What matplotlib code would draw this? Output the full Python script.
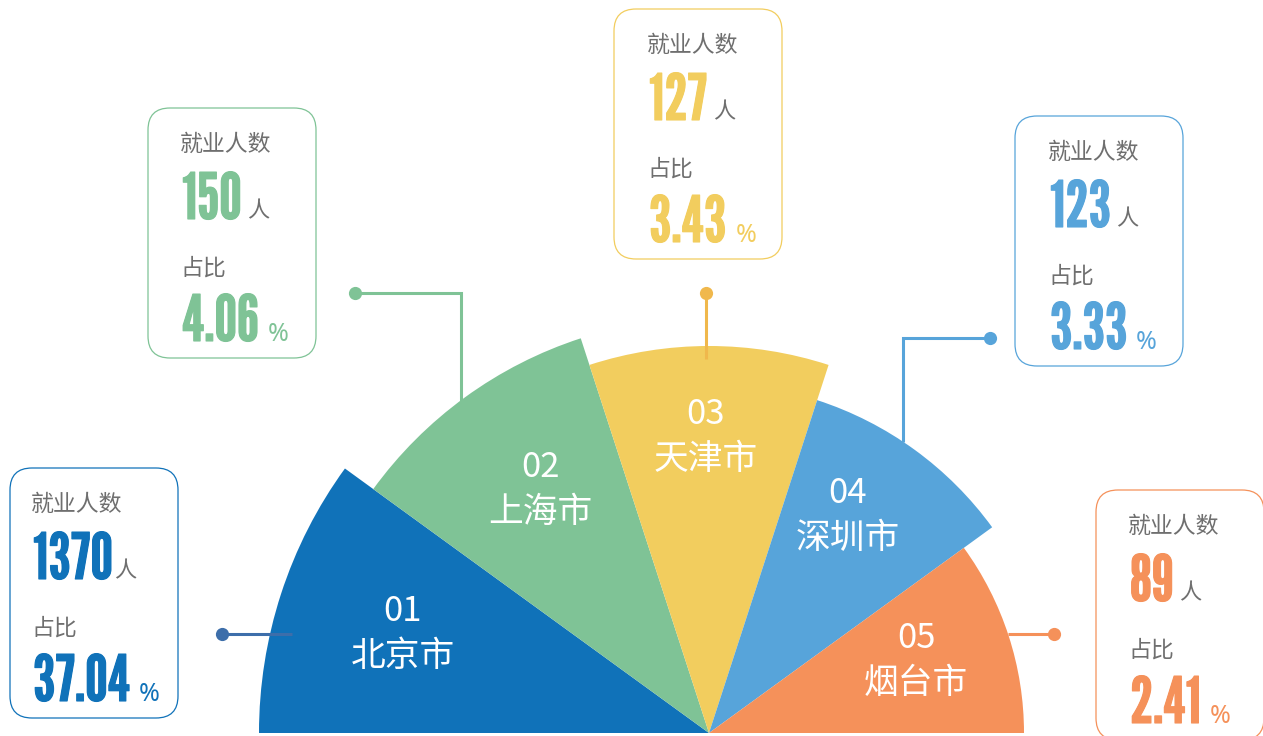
import math
import matplotlib
matplotlib.use("Agg")
import matplotlib.pyplot as plt
from matplotlib.patches import Wedge, FancyBboxPatch
import matplotlib.patheffects as pe
from matplotlib import font_manager as fm

# ---------------- data ----------------
ids = ["01", "02", "03", "04", "05"]
cities = ["北京市", "上海市", "天津市", "深圳市", "烟台市"]
employed = [1370, 150, 127, 123, 89]
share_pct = ["37.04", "4.06", "3.43", "3.33", "2.41"]
# display radius (rose-type) of each sector, in pixels
rose_radius = [450, 415, 387, 350, 315]

# ---------------- style / layout ----------------
colors = ["#1072b9", "#7fc396", "#f2cd5e", "#57a4da", "#f5915a"]
line_colors = ["#3d6eaa", "#7fc396", "#f0b84c", "#57a4da", "#f5915a"]
label_frac = [0.716, 0.715, 0.765, 0.736, 0.697]
label_dang = [0.0, -1.3, 0.6, 3.4, 1.4]
box_xy = [(10, 468), (148, 108), (614, 9), (1015, 116), (1096, 490)]
box_w, box_h = 168, 250
text_dx = [21, 32, 33, 33, 32]
unit_gap = [0.8, 4.0, 4.0, 4.0, 4.0]
leaders = [
    [(222, 634), (292, 634)],
    [(355, 293), (461, 293), (461, 402)],
    [(706, 293), (706, 359)],
    [(990, 338), (903, 338), (903, 442)],
    [(1054, 634), (1008, 634)],
]
W, H = 1263, 736
CX, CY = 709, 733  # image pixel coordinates of the rose centre

avail = set(f.name for f in fm.fontManager.ttflist)
num_font = [f for f in ["League Gothic", "Bebas Neue", "Oswald"] if f in avail] + ["DejaVu Sans"]
cjk = ["Noto Sans CJK SC", "DejaVu Sans"]
gray = "#6f6f6f"


def Y(y):
    return H - y


fig = plt.figure(figsize=(W / 100, H / 100), dpi=100)
ax = fig.add_axes([0, 0, 1, 1])
ax.set_xlim(0, W)
ax.set_ylim(0, H)
ax.axis("off")

n = len(cities)
step = 180.0 / n
for i in range(n):
    t2 = 180 - step * i
    t1 = t2 - step
    ax.add_patch(Wedge((CX, Y(CY)), rose_radius[i], t1, t2, facecolor=colors[i],
                       edgecolor="none", zorder=2))
    a = math.radians((t1 + t2) / 2 + label_dang[i])
    rl = rose_radius[i] * label_frac[i]
    lx = CX + rl * math.cos(a)
    ly = Y(CY) + rl * math.sin(a)
    ax.text(lx, ly + 22, ids[i], color="white", fontsize=25, family=cjk,
            ha="center", va="center", zorder=5)
    ax.text(lx, ly - 23, cities[i], color="white", fontsize=25, family=cjk,
            ha="center", va="center", zorder=5)

# leader lines
for i, pts in enumerate(leaders):
    xs = [p[0] for p in pts]
    ys = [Y(p[1]) for p in pts]
    ax.plot(xs, ys, color=line_colors[i], lw=2.2, solid_capstyle="butt",
            solid_joinstyle="miter", zorder=4)
    ax.plot([xs[0]], [ys[0]], "o", color=line_colors[i], ms=9.5, mec="none", zorder=4)

# info boxes
for i in range(n):
    bx, by = box_xy[i]
    ax.add_patch(FancyBboxPatch((bx, Y(by + box_h)), box_w, box_h,
                                boxstyle="round,pad=0,rounding_size=22",
                                facecolor="white", edgecolor=colors[i], lw=0.9, zorder=3))
    tx = bx + text_dx[i]
    ax.text(tx, Y(by + 36), "就业人数", color=gray, fontsize=16.5, family=cjk,
            ha="left", va="center", zorder=5)
    num = ax.text(tx + 2, Y(by + 111), str(employed[i]), color=colors[i], fontsize=46,
                  family=num_font, ha="left", va="baseline", zorder=5,
                  path_effects=[pe.withStroke(linewidth=0.8, foreground=colors[i])])
    ax.annotate("人", xy=(1, Y(by + 109)), xycoords=(num, "data"), xytext=(unit_gap[i], 0),
                textcoords="offset points", color=gray, fontsize=16, family=cjk,
                ha="left", va="baseline", zorder=5)
    ax.text(tx, Y(by + 160), "占比", color=gray, fontsize=16.5, family=cjk,
            ha="left", va="center", zorder=5)
    pct = ax.text(tx + 2, Y(by + 233), share_pct[i], color=colors[i], fontsize=46,
                  family=num_font, ha="left", va="baseline", zorder=5,
                  path_effects=[pe.withStroke(linewidth=0.8, foreground=colors[i])])
    ax.annotate("%", xy=(1, Y(by + 233)), xycoords=(pct, "data"), xytext=(6.5, 0),
                textcoords="offset points", color=colors[i], fontsize=18,
                family=["Noto Sans", "DejaVu Sans"],
                ha="left", va="baseline", zorder=5)

fig.savefig("out.png", dpi=100)
